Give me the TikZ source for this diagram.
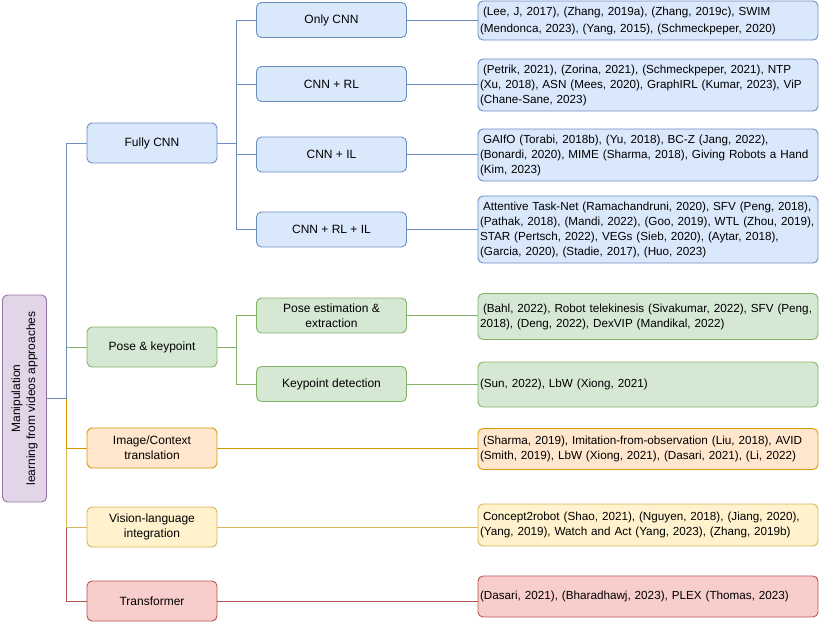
\documentclass[tikz,border=0pt]{standalone}
\usepackage{fontspec}
\setmainfont{Liberation Sans}

\definecolor{blueFill}{HTML}{DAE8FC}
\definecolor{blueLine}{HTML}{6C8EBF}
\definecolor{greenFill}{HTML}{D5E8D4}
\definecolor{greenLine}{HTML}{82B366}
\definecolor{orangeFill}{HTML}{FFE6CC}
\definecolor{orangeLine}{HTML}{D79B00}
\definecolor{yellowFill}{HTML}{FFF2CC}
\definecolor{yellowLine}{HTML}{D6B656}
\definecolor{redFill}{HTML}{F8CECC}
\definecolor{redLine}{HTML}{B85450}
\definecolor{purpleFill}{HTML}{E1D5E7}
\definecolor{purpleLine}{HTML}{9673A6}

\begin{document}
\begin{tikzpicture}[x=1pt,y=-1pt,
    font=\fontsize{12}{15}\selectfont,
    box/.style={draw,rounded corners=5pt,line width=0.9pt},
    cat/.style={box,minimum width=130pt,minimum height=40pt,align=center},
    sub/.style={box,minimum width=150pt,minimum height=35pt,align=center},
    refs/.style={box,text width=336pt,inner xsep=2pt,inner ysep=2pt,align=left,
        font=\fontsize{11.7}{15}\selectfont},
    bluebox/.style={fill=blueFill,draw=blueLine},
    greenbox/.style={fill=greenFill,draw=greenLine},
    orangebox/.style={fill=orangeFill,draw=orangeLine},
    yellowbox/.style={fill=yellowFill,draw=yellowLine},
    redbox/.style={fill=redFill,draw=redLine},
    link/.style={line width=0.9pt}]
    \useasboundingbox (0,0) rectangle (820,622);

    % nodes
    \node (root) at (24.5,398.5) [box,fill=purpleFill,draw=purpleLine,minimum width=44pt,minimum height=207pt,inner sep=0pt]
        {\rotatebox{90}{\begin{tabular}{@{}c@{}}Manipulation\\learning from videos approaches\end{tabular}}};

    \node (fcnn) at (152,143) [cat,bluebox] {Fully CNN};
    \node (pose) at (152,347) [cat,greenbox] {Pose \& keypoint};
    \node (imgctx) at (152,448) [cat,orangebox] {Image/Context\\translation};
    \node (vislang) at (152,527) [cat,yellowbox] {Vision-language\\integration};
    \node (trans) at (152,601) [cat,redbox] {Transformer};

    \node (onlycnn) at (331.5,20) [sub,bluebox] {Only CNN};
    \node (cnnrl) at (331.5,84) [sub,bluebox] {CNN + RL};
    \node (cnnil) at (331.5,154.5) [sub,bluebox] {CNN + IL};
    \node (cnnrlil) at (331.5,229.5) [sub,bluebox] {CNN + RL + IL};
    \node (poseest) at (331.5,315.5) [sub,greenbox] {Pose estimation \&\\extraction};
    \node (kpdet) at (331.5,384) [sub,greenbox] {Keypoint detection};

    \node (onlycnnrefs) at (648,20.5) [refs,bluebox,minimum height=39pt]
        {\hspace*{3pt}(Lee, J, 2017), (Zhang, 2019a), (Zhang, 2019c), SWIM\\[2pt](Mendonca, 2023), (Yang, 2015), (Schmeckpeper, 2020)};
    \node (cnnrlrefs) at (648,85) [refs,bluebox,minimum height=52pt]
        {\hspace*{3pt}(Petrik, 2021), (Zorina, 2021), (Schmeckpeper, 2021), NTP\\(Xu, 2018), ASN (Mees, 2020), GraphIRL (Kumar, 2023), ViP\\(Chane-Sane, 2023)};
    \node (cnnilrefs) at (648,155) [refs,bluebox,minimum height=52pt]
        {\hspace*{3pt}GAIfO (Torabi, 2018b), (Yu, 2018), BC-Z (Jang, 2022),\\(Bonardi, 2020), MIME (Sharma, 2018), Giving Robots a Hand\\(Kim, 2023)};
    \node (cnnrlilrefs) at (648,229.5) [refs,bluebox,minimum height=67pt]
        {\hspace*{3pt}Attentive Task-Net (Ramachandruni, 2020), SFV (Peng, 2018),\\(Pathak, 2018), (Mandi, 2022), (Goo, 2019), WTL (Zhou, 2019),\\STAR (Pertsch, 2022), VEGs (Sieb, 2020), (Aytar, 2018),\\(Garcia, 2020), (Stadie, 2017), (Huo, 2023)};
    \node (poseestrefs) at (648,316.5) [refs,greenbox,minimum height=46pt]
        {\hspace*{3pt}(Bahl, 2022), Robot telekinesis (Sivakumar, 2022), SFV (Peng,\\2018), (Deng, 2022), DexVIP (Mandikal, 2022)};
    \node (kpdetrefs) at (648,384.5) [refs,greenbox,minimum height=45pt]
        {(Sun, 2022), LbW (Xiong, 2021)};
    \node (imgctxrefs) at (648,449) [refs,orangebox,minimum height=41pt]
        {\hspace*{3pt}(Sharma, 2019), Imitation-from-observation (Liu, 2018), AVID\\(Smith, 2019), LbW (Xiong, 2021), (Dasari, 2021), (Li, 2022)};
    \node (vislangrefs) at (648,525) [refs,yellowbox,minimum height=42pt]
        {\hspace*{3pt}Concept2robot (Shao, 2021), (Nguyen, 2018), (Jiang, 2020),\\(Yang, 2019), Watch and Act (Yang, 2023), (Zhang, 2019b)};
    \node (transrefs) at (648,596.5) [refs,redbox,minimum height=41pt]
        {(Dasari, 2021), (Bharadhawj, 2023), PLEX (Thomas, 2023)};

    % paths
    \draw[link,redLine] (root.east) -| ([xshift=-20pt]trans.west) -- (trans.west);
    \draw[link,yellowLine] (root.east) -| ([xshift=-20pt]vislang.west) -- (vislang.west);
    \draw[link,orangeLine] (root.east) -| ([xshift=-20pt]imgctx.west) -- (imgctx.west);
    \draw[link,greenLine] (root.east) -| ([xshift=-20pt]pose.west) -- (pose.west);
    \draw[link,blueLine] (root.east) -| ([xshift=-20pt]fcnn.west) -- (fcnn.west);

    \draw[link,blueLine] (fcnn.east) -| ([xshift=-20pt]onlycnn.west) -- (onlycnn.west);
    \draw[link,blueLine] (fcnn.east) -| ([xshift=-20pt]cnnrl.west) -- (cnnrl.west);
    \draw[link,blueLine] (fcnn.east) -| ([xshift=-20pt]cnnil.west) -- (cnnil.west);
    \draw[link,blueLine] (fcnn.east) -| ([xshift=-20pt]cnnrlil.west) -- (cnnrlil.west);
    \draw[link,greenLine] (pose.east) -| ([xshift=-20pt]poseest.west) -- (poseest.west);
    \draw[link,greenLine] (pose.east) -| ([xshift=-20pt]kpdet.west) -- (kpdet.west);

    \draw[link,blueLine] (onlycnn.east) -- (onlycnn.east -| onlycnnrefs.west);
    \draw[link,blueLine] (cnnrl.east) -- (cnnrl.east -| cnnrlrefs.west);
    \draw[link,blueLine] (cnnil.east) -- (cnnil.east -| cnnilrefs.west);
    \draw[link,blueLine] (cnnrlil.east) -- (cnnrlil.east -| cnnrlilrefs.west);
    \draw[link,greenLine] (poseest.east) -- (poseest.east -| poseestrefs.west);
    \draw[link,greenLine] (kpdet.east) -- (kpdet.east -| kpdetrefs.west);
    \draw[link,orangeLine] (imgctx.east) -- (imgctx.east -| imgctxrefs.west);
    \draw[link,yellowLine] (vislang.east) -- (vislang.east -| vislangrefs.west);
    \draw[link,redLine] (trans.east) -- (trans.east -| transrefs.west);

\end{tikzpicture}
\end{document}
